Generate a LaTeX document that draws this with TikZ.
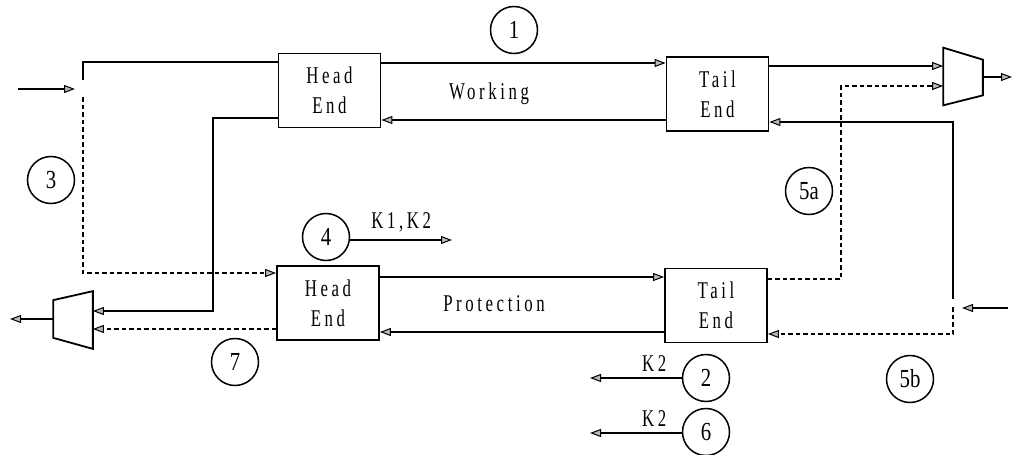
\documentclass[tikz,border=0pt]{standalone}
\usepackage{fontspec}
\usetikzlibrary{arrows.meta,calc}
\newfontfamily\labfont[FakeStretch=0.7,LetterSpace=15]{Liberation Serif}
\newfontfamily\numfont[FakeStretch=0.8]{Liberation Serif}
\begin{document}
\begin{tikzpicture}[x=1pt,y=-1pt,
  line width=1.7pt,
  tip/.style={-{Triangle[length=11pt,width=8pt,fill=gray!55,line width=1pt]}},
  protline/.style={dash pattern=on 4.5pt off 3pt,line width=1.3pt},
  endbox/.style={draw,line width=1.8pt,minimum width=102pt,minimum height=74pt,
    inner sep=0pt,align=center,font=\fontsize{24}{30}\labfont},
  num/.style={draw,circle,line width=1.5pt,minimum size=47pt,inner sep=0pt,
    font=\fontsize{26}{26}\numfont},
  txt/.style={inner sep=0pt,font=\fontsize{24}{24}\labfont},
  muxbox/.style={minimum width=38pt,minimum height=56pt,inner sep=0pt}]
\useasboundingbox (0,0) rectangle (1013,455);

% head and tail end boxes
\node[endbox] (ht) at (329.5,90.5) {Head\\End};
\node[endbox] (tt) at (717.5,94) {Tail\\End};
\node[endbox] (hb) at (328,303) {Head\\End};
\node[endbox] (tb) at (716,305.5) {Tail\\End};

% multiplexers
\node[muxbox] (mR) at (963,76.5) {};
\draw[line width=1.8pt] (mR.north west) -- ($(mR.north east)+(0,12)$)
  -- ($(mR.south east)+(0,-10)$) -- (mR.south west) -- cycle;
\node[muxbox] (mL) at (73,320) {};
\draw[line width=1.8pt] ($(mL.north west)+(0,9)$) -- (mL.north east)
  -- (mL.south east) -- ($(mL.south west)+(0,-11)$) -- cycle;

% free ends
\coordinate (inL) at (18,89);
\coordinate (inLtip) at (75,89);
\coordinate (spL) at (83,80);
\coordinate (spLd) at (83,97);
\coordinate (outL) at (10,319);
\coordinate (outR) at (1012,77);
\coordinate (inR) at (1008,308);
\coordinate (inRtip) at (962,308);
\coordinate (spR) at (953,299);
\coordinate (spRd) at (953,307);

% left input and its split
\draw[tip] (inL) -- (inLtip);
\draw (spL) |- (ht.west |- 0,62);
\draw[protline,tip] (spLd) |- (hb.west |- 0,273);

% working ring
\draw[tip] (ht.east |- 0,63) -- (tt.west |- 0,63);
\draw[tip] (tt.west |- 0,120) -- (ht.east |- 0,120);
\draw[tip] (ht.west |- 0,118) -| (213,311) -- (mL.east |- 0,311);
\draw[tip] (tt.east |- 0,66) -- (mR.west |- 0,66);
\draw[tip] (mR.east |- 0,77) -- (outR);
\draw[tip] (spR) |- (tt.east |- 0,122);

% protection ring
\draw[tip] (hb.east |- 0,277) -- (tb.west |- 0,277);
\draw[tip] (tb.west |- 0,332) -- (hb.east |- 0,332);
\draw[protline,tip] (hb.west |- 0,329) -- (mL.east |- 0,329);
\draw[tip] (mL.west |- 0,319) -- (outL);
\draw[protline,tip] (tb.east |- 0,279) -| (841,86) -- (mR.west |- 0,86);
\draw[tip] (inR) -- (inRtip);
\draw[protline,tip] (spRd) |- (tb.east |- 0,334);

% ring labels
\node[txt] (lw) at (489,94) {Working};
\node[txt] (lp) at (494,304) {Protection};

% numbered markers
\node[num] (n1) at (514,30) {1};
\node[num] (n3) at (51,180) {3};
\node[num] (n4) at (326,237) {4};
\node[num] (n5a) at (809,191) {5a};
\node[num] (n5b) at (910,379) {5b};
\node[num] (n7) at (235,362) {7};
\node[num] (n2) at (706,378) {2};
\node[num] (n6) at (706,432) {6};

% signalling arrows
\coordinate (k4) at (452,240);
\coordinate (k2) at (590,378);
\coordinate (k6) at (590,433);
\draw[tip] (n4.east |- k4) -- (k4) node[txt,midway,above=7pt] (lk4) {K1,K2};
\draw[tip] (n2.west |- k2) -- (k2) node[txt,pos=0.3,above=6pt] (lk2) {K2};
\draw[tip] (n6.west |- k6) -- (k6) node[txt,pos=0.3,above=6pt] (lk6) {K2};
\end{tikzpicture}
\end{document}
